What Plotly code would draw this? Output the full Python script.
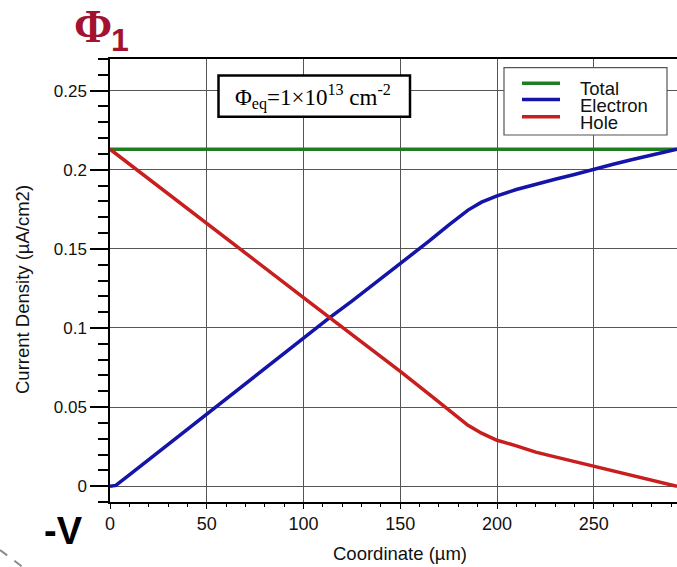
import plotly.graph_objects as go

# Current density profiles across the sensor thickness
coord_um = [0, 3, 10, 25, 50, 75, 100, 113, 125, 150, 165, 175, 185, 192,
            200, 210, 220, 230, 240, 250, 260, 270, 280, 293]
electron = [0.0, 0.0005, 0.0072, 0.0216, 0.0458, 0.0698, 0.0937, 0.106, 0.117,
            0.1405, 0.155, 0.165, 0.1745, 0.1795, 0.1835, 0.1875, 0.191, 0.194,
            0.197, 0.2005, 0.2035, 0.2065, 0.2095, 0.2130]
hole = [0.213, 0.2102, 0.2035, 0.1895, 0.1665, 0.1428, 0.1192, 0.107, 0.096,
        0.0725, 0.058, 0.048, 0.0385, 0.0335, 0.0290, 0.0255, 0.0215, 0.0185,
        0.0155, 0.0125, 0.0095, 0.0065, 0.0035, 0.0]
total_coord = [0, 293]
total = [0.213, 0.213]

series_names = ["Total", "Electron", "Hole"]
series_colors = ["#1e7d1e", "#1414a8", "#c81e1e"]

x_ticks = [0, 50, 100, 150, 200, 250]
y_ticks = [0, 0.05, 0.1, 0.15, 0.2, 0.25]
y_tick_text = ["0", "0.05", "0.1", "0.15", "0.2", "0.25"]

W, H = 677, 567
L, R, T, B = 110, 0, 59, 65
PW, PH = W - L - R, H - T - B


def px(xp):
    return (xp - L) / PW


def py(yp):
    return (H - B - yp) / PH


fig = go.Figure()
for name, xs, ys, col in [
    ("Total", total_coord, total, series_colors[0]),
    ("Electron", coord_um, electron, series_colors[1]),
    ("Hole", coord_um, hole, series_colors[2]),
]:
    fig.add_trace(go.Scatter(x=xs, y=ys, mode="lines", name=name,
                             line=dict(color=col, width=3.5), showlegend=False))

font_main = "Liberation Sans, Arial, sans-serif"

shapes = []
annotations = []

# legend box
shapes.append(dict(type="rect", xref="paper", yref="paper",
                   x0=px(504), x1=px(667), y0=py(135), y1=py(67.7),
                   line=dict(color="#555555", width=1.2), fillcolor="white", layer="above"))
for i, (name, col) in enumerate(zip(series_names, series_colors)):
    ly = [83.3, 99.6, 116.7][i]
    ty = [88.5, 105.5, 122][i]
    shapes.append(dict(type="line", xref="paper", yref="paper",
                       x0=px(522), x1=px(560), y0=py(ly), y1=py(ly),
                       line=dict(color=col, width=3.5), layer="above"))
    annotations.append(dict(xref="paper", yref="paper", x=px(578), y=py(ty),
                            text=name, showarrow=False, xanchor="left", yanchor="middle",
                            font=dict(family=font_main, size=18.5, color="#111111")))

# fluence box
shapes.append(dict(type="rect", xref="paper", yref="paper",
                   x0=px(218.5), x1=px(410), y0=py(116.7), y1=py(75.5),
                   line=dict(color="black", width=2.5), fillcolor="white", layer="above"))
annotations.append(dict(xref="paper", yref="paper", x=px(313), y=py(97),
                        text="Φ<sub>eq</sub>=1×10<sup>13</sup> cm<sup>-2</sup>",
                        showarrow=False, xanchor="center", yanchor="middle",
                        font=dict(family="Liberation Serif, Times New Roman, serif",
                                  size=23, color="black")))

# title Φ1
annotations.append(dict(xref="paper", yref="paper", x=px(92.5), y=py(26.5),
                        text="<b>Φ</b>", showarrow=False, xanchor="center", yanchor="middle",
                        font=dict(family="Liberation Serif, Times New Roman, serif",
                                  size=46, color="#a3122f")))
annotations.append(dict(xref="paper", yref="paper", x=px(120), y=py(40),
                        text="<b>1</b>", showarrow=False, xanchor="center", yanchor="middle",
                        font=dict(family=font_main, size=32, color="#a3122f")))

# -V label
annotations.append(dict(xref="paper", yref="paper", x=px(63.5), y=py(531),
                        text="<b>-V</b>", showarrow=False, xanchor="center", yanchor="middle",
                        font=dict(family=font_main, size=38, color="black")))

# axis titles
annotations.append(dict(xref="paper", yref="paper", x=px(22), y=py(290),
                        text="Current Density (µA/cm2)", showarrow=False, textangle=-90,
                        xanchor="center", yanchor="middle",
                        font=dict(family=font_main, size=18.5, color="#111111")))
annotations.append(dict(xref="paper", yref="paper", x=px(400), y=py(553),
                        text="Coordinate (µm)", showarrow=False,
                        xanchor="center", yanchor="middle",
                        font=dict(family=font_main, size=18.5, color="#111111")))

# dashed corner mark
shapes.append(dict(type="line", xref="paper", yref="paper",
                   x0=px(0), y0=py(550), x1=px(24), y1=py(568),
                   line=dict(color="#8a8a8a", width=2, dash="dash")))

fig.update_layout(
    width=W, height=H,
    margin=dict(l=L, r=R, t=T, b=B),
    paper_bgcolor="white", plot_bgcolor="white",
    shapes=shapes, annotations=annotations,
    showlegend=False,
)
fig.update_xaxes(
    range=[0, 293], tickvals=x_ticks, ticktext=[str(v) for v in x_ticks],
    ticks="outside", ticklen=5, tickwidth=1, tickcolor="black",
    minor=dict(dtick=10, tick0=0, ticks="outside", ticklen=3, tickcolor="black", showgrid=False),
    showgrid=True, gridcolor="#555555", gridwidth=1,
    zeroline=False, showline=True, linecolor="black", linewidth=1.5, mirror=True,
    tickfont=dict(family=font_main, size=18, color="#111111"),
)
fig.update_yaxes(
    range=[-0.01, 0.27], tickvals=y_ticks, ticktext=y_tick_text,
    ticks="outside", ticklen=18, tickwidth=1.5, tickcolor="black",
    minor=dict(dtick=0.01, tick0=0, ticks="outside", ticklen=10, tickcolor="black", showgrid=False),
    showgrid=True, gridcolor="#555555", gridwidth=1,
    zeroline=True, zerolinecolor="#555555", zerolinewidth=1,
    showline=True, linecolor="black", linewidth=1.5, mirror=False,
    tickfont=dict(family=font_main, size=17, color="#111111"),
)

fig.write_html("out.html")
